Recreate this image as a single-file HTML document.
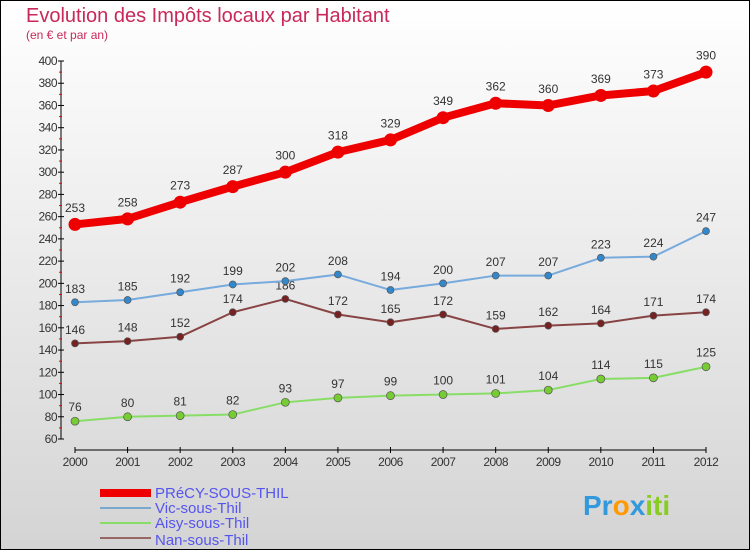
<!DOCTYPE html>
<html><head><meta charset="utf-8"><style>
body{margin:0;width:750px;height:550px;overflow:hidden}
svg{display:block;font-family:"Liberation Sans",sans-serif}
</style></head><body>
<svg id="c" width="750" height="550">
<defs><linearGradient id="bg" x1="0" y1="0" x2="0" y2="1"><stop offset="0" stop-color="#ffffff"/><stop offset="1" stop-color="#d4d4d4"/></linearGradient></defs>
<rect x="0.5" y="0.5" width="749" height="549" fill="url(#bg)" stroke="#000"/>
<text x="26" y="22" font-size="20" fill="#c8285a">Evolution des Impôts locaux par Habitant</text>
<text x="26" y="39" font-size="12" fill="#c8285a">(en € et par an)</text>
<g id="axes"></g><g id="series"></g>
<g font-size="15" fill="#5555ee">
<rect x="100" y="489" width="51" height="8" fill="#ee0000"/>
<text x="155" y="498">PRéCY-SOUS-THIL</text>
<rect x="100" y="507" width="51" height="2" fill="#7aa8cc"/>
<text x="155" y="513">Vic-sous-Thil</text>
<rect x="100" y="522" width="51" height="2" fill="#88dd66"/>
<text x="155" y="528">Aisy-sous-Thil</text>
<rect x="100" y="537" width="51" height="2" fill="#996666"/>
<text x="155" y="545">Nan-sous-Thil</text>
</g>
<g font-size="28" font-weight="bold">
<text x="583" y="515" fill="#3399dd">Pr<tspan fill="#ff9900">o</tspan><tspan fill="#3399dd">x</tspan><tspan fill="#88cc22">iti</tspan></text>
</g>
</svg>
<script>
const years=["2000","2001","2002","2003","2004","2005","2006","2007","2008","2009","2010","2011","2012"];
const precy=[253,258,273,287,300,318,329,349,362,360,369,373,390];
const vic=[183,185,192,199,202,208,194,200,207,207,223,224,247];
const aisy=[76,80,81,82,93,97,99,100,101,104,114,115,125];
const nan=[146,148,152,174,186,172,165,172,159,162,164,171,174];
const yTicks=[60,80,100,120,140,160,180,200,220,240,260,280,300,320,340,360,380,400];
const NS="http://www.w3.org/2000/svg";
const X=i=>75+i*(706-75)/(years.length-1);
const Y=v=>61+(400-v)*(439-61)/340;
function mk(t,a,p){const e=document.createElementNS(NS,t);for(const k in a)e.setAttribute(k,a[k]);p.appendChild(e);return e;}
const ax=document.getElementById('axes'),se=document.getElementById('series');
const yl=mk('line',{x1:61,y1:Y(400),x2:61,y2:Y(60),stroke:'#000'},ax);


yTicks.forEach(v=>{
 mk('line',{x1:58,x2:64,y1:Y(v),y2:Y(v),stroke:'#000'},ax);
 mk('line',{x1:59,x2:62,y1:Y(v+10),y2:Y(v+10),stroke:v<400?'#e00':'none'},ax);
 const t=mk('text',{x:57,y:Y(v)+4,'text-anchor':'end','font-size':12,fill:'#333','letter-spacing':'-0.5'},ax);
 t.textContent=v;
 
 
});
const xl=mk('line',{x1:X(0),x2:X(12),y1:450,y2:450,stroke:'#000'},ax);


years.forEach((y,i)=>{
 mk('line',{x1:X(i),x2:X(i),y1:447,y2:453,stroke:'#000'},ax);
 const t=mk('text',{x:X(i),y:466,'text-anchor':'middle','font-size':12,fill:'#333','letter-spacing':'-0.5'},ax);
 t.textContent=y;
 
 
});
function series(d,name,col,mcol,w,r){
 const g=mk('g',{},se);
 
 
 const p=mk('polyline',{points:d.map((v,i)=>X(i)+','+Y(v)).join(' '),fill:'none',stroke:col,'stroke-width':w,'stroke-linejoin':'round'},g);
 
 
 d.forEach((v,i)=>{
  const c=mk('circle',{cx:X(i),cy:Y(v),r:r,fill:mcol,stroke:col==='#ee0000'?'none':'#555','stroke-width':0.7},g);
  
  
  const t=mk('text',{x:X(i),y:Y(v)-(r+6),'text-anchor':'middle','font-size':12,fill:'#333'},g);
  t.textContent=v;
  
  
 });
}
series(aisy,'aisy','#88dd66','#77cc33',2,4);
series(nan,'nan','#884444','#772222',2,3.5);
series(vic,'vic','#77aadd','#3388cc',2,3.5);
series(precy,'precy','#ee0000','#ee0000',8,6.5);
</script>
</body></html>
